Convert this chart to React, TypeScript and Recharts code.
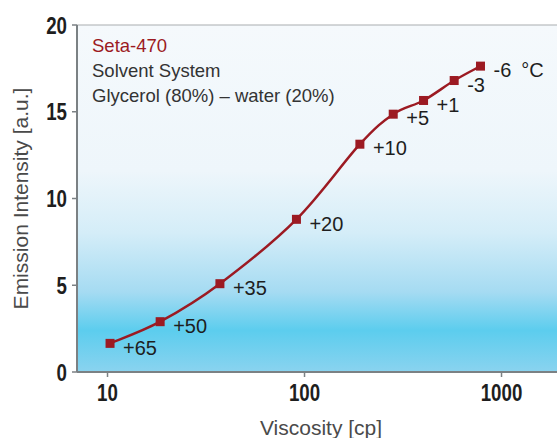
import React from "react"
import {
  LineChart,
  Line,
  XAxis,
  YAxis,
  ReferenceArea,
  ReferenceLine,
  LabelList,
} from "recharts"

// values
const viscosity = [10.3, 18.5, 37.2, 91, 191, 282, 402, 575, 782]
const intensity = [1.65, 2.9, 5.09, 8.8, 13.13, 14.86, 15.65, 16.8, 17.63]
const temperatures = ["+65", "+50", "+35", "+20", "+10", "+5", "+1", "-3", "-6"]
const xTicks = [10, 100, 1000]
const yTicks = [0, 5, 10, 15, 20]
const titleLines = ["Seta-470", "Solvent System", "Glycerol (80%) – water (20%)"]

const data = viscosity.map((v, i) => ({ v, y: intensity[i], t: temperatures[i] }))

const RED = "#9c1a22"
const textFont = "'Liberation Sans', Arial, sans-serif"

// smooth line through every point (catmull-rom style), like a spreadsheet "smoothed line"
const smoothCurve = (context: any) => {
  let pts: number[][] = []
  return {
    areaStart() {},
    areaEnd() {},
    lineStart() {
      pts = []
    },
    point(x: number, y: number) {
      pts.push([+x, +y])
    },
    lineEnd() {
      if (!pts.length) return
      context.moveTo(pts[0][0], pts[0][1])
      for (let i = 0; i < pts.length - 1; i++) {
        const p0 = pts[i - 1] || pts[i]
        const p1 = pts[i]
        const p2 = pts[i + 1]
        const p3 = pts[i + 2] || p2
        context.bezierCurveTo(
          p1[0] + (p2[0] - p0[0]) / 6,
          p1[1] + (p2[1] - p0[1]) / 6,
          p2[0] - (p3[0] - p1[0]) / 6,
          p2[1] - (p3[1] - p1[1]) / 6,
          p2[0],
          p2[1]
        )
      }
    },
  }
}

const SquareDot = (props: any) => {
  const { cx, cy } = props
  if (cx == null || cy == null) return null
  return <rect x={cx - 4.5} y={cy - 4.5} width={9} height={9} fill={RED} />
}

const TempLabel = (props: any) => {
  const { x, y, value, index } = props
  const last = index === temperatures.length - 1
  return (
    <text x={x + 13} y={y + 6} fontFamily={textFont} fontSize={20} fill="#1e1e1e" dominantBaseline="middle">
      {value}
      {last && <tspan dx={10}>°C</tspan>}
    </text>
  )
}

const NarrowTick = (props: any) => {
  const { x, y, payload, anchor } = props
  return (
    <text
      transform={`translate(${x},${y}) scale(0.78,1)`}
      textAnchor={anchor}
      dy={anchor === "middle" ? "0.75em" : "0.36em"}
      fill="#1e1e1e"
      fontSize={24}
      fontWeight={700}
      fontFamily={textFont}
    >
      {payload.value}
    </text>
  )
}

export default function App() {
  return (
    <div style={{ position: "absolute", left: 0, top: 0, width: 557, height: 438, overflow: "hidden", background: "#fff" }}>
      <LineChart width={565} height={438} data={data} margin={{ top: 25, right: 0, bottom: 6, left: 0 }}>
        <defs>
          <linearGradient id="bg" x1="0" y1="0" x2="0" y2="1">
            <stop offset="0%" stopColor="#f5f9fc" />
            <stop offset="42%" stopColor="#eef6fb" />
            <stop offset="60%" stopColor="#d4edf8" />
            <stop offset="77%" stopColor="#a5dbf2" />
            <stop offset="88%" stopColor="#5ccdee" />
            <stop offset="100%" stopColor="#8ad3ef" />
          </linearGradient>
        </defs>
        <ReferenceArea x1={7} x2={2100} y1={0} y2={20} fill="url(#bg)" fillOpacity={1} stroke="none" ifOverflow="extendDomain" />
        <ReferenceLine y={20} stroke="#a9adb0" strokeWidth={1.2} />
        <XAxis
          dataKey="v"
          type="number"
          scale="log"
          domain={[7, 2100]}
          ticks={xTicks}
          allowDataOverflow
          height={60}
          tickSize={5}
          tickMargin={6}
          axisLine={{ stroke: "#7b8184", strokeWidth: 2 }}
          tickLine={{ stroke: "#7b8184", strokeWidth: 1.5 }}
          tick={<NarrowTick anchor="middle" />}
          label={{ value: "Viscosity [cp]", position: "insideBottom", offset: -3, fill: "#4a4a4a", fontSize: 21, fontFamily: textFont }}
        />
        <YAxis
          type="number"
          domain={[0, 20]}
          ticks={yTicks}
          width={77}
          tickSize={5}
          tickMargin={5}
          axisLine={{ stroke: "#7b8184", strokeWidth: 2 }}
          tickLine={{ stroke: "#7b8184", strokeWidth: 1.5 }}
          tick={<NarrowTick anchor="end" />}
          label={{
            value: "Emission Intensity [a.u.]",
            angle: -90,
            position: "insideLeft",
            offset: 21,
            fill: "#4a4a4a",
            fontSize: 21,
            fontFamily: textFont,
            style: { textAnchor: "middle" },
          }}
        />
        <Line
          type={smoothCurve as any}
          dataKey="y"
          stroke={RED}
          strokeWidth={2.5}
          dot={<SquareDot />}
          activeDot={false}
          isAnimationActive={false}
        >
          <LabelList dataKey="t" content={<TempLabel />} />
        </Line>
      </LineChart>
      <div style={{ position: "absolute", left: 92, top: 33, fontFamily: textFont, fontSize: 18.5, lineHeight: "25px", color: "#333", whiteSpace: "nowrap" }}>
        {titleLines.map((line, i) => (
          <div key={line} style={{ color: i === 0 ? RED : "#333" }}>
            {line}
          </div>
        ))}
      </div>
    </div>
  )
}
